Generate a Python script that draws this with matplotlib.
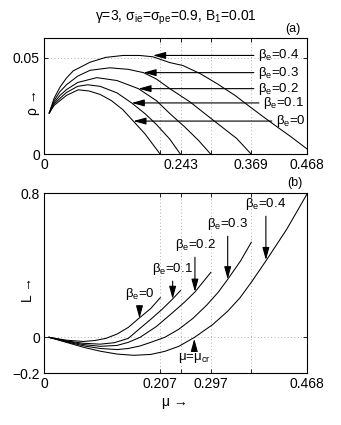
import numpy as np
import matplotlib
matplotlib.use('Agg')
import matplotlib.pyplot as plt

plt.rcParams['font.family'] = ['Liberation Sans', 'DejaVu Sans']
plt.rcParams['font.size'] = 10
plt.rcParams['mathtext.fontset'] = 'custom'
plt.rcParams['mathtext.rm'] = 'Liberation Sans'
plt.rcParams['mathtext.it'] = 'Liberation Sans'

# ---- panel (a): rho vs mu ----
mu_a0 = [0.0094, 0.018, 0.0285, 0.04, 0.061, 0.08, 0.10, 0.12, 0.14, 0.159, 0.18, 0.207]
rho_a0 = [0.0214, 0.0253, 0.0278, 0.0305, 0.0334, 0.0328, 0.031, 0.0278, 0.0232, 0.0172, 0.0105, 0.0]
mu_a1 = [0.0094, 0.018, 0.0285, 0.04, 0.06, 0.078, 0.10, 0.13, 0.156, 0.18, 0.20, 0.224, 0.243]
rho_a1 = [0.0214, 0.026, 0.029, 0.032, 0.0352, 0.036, 0.0352, 0.0318, 0.0266, 0.021, 0.0155, 0.0078, 0.0]
mu_a2 = [0.0094, 0.018, 0.0285, 0.04, 0.06, 0.094, 0.13, 0.168, 0.20, 0.224, 0.25, 0.275, 0.297]
rho_a2 = [0.0214, 0.0268, 0.0305, 0.0335, 0.0372, 0.0397, 0.0382, 0.034, 0.0278, 0.0211, 0.0143, 0.0072, 0.0]
mu_a3 = [0.0094, 0.018, 0.0285, 0.04, 0.06, 0.082, 0.117, 0.15, 0.177, 0.20, 0.224, 0.26, 0.301, 0.343, 0.369]
rho_a3 = [0.0214, 0.0278, 0.0325, 0.036, 0.0405, 0.0435, 0.0448, 0.044, 0.0423, 0.039, 0.034, 0.0271, 0.0177, 0.0082, 0.0]
mu_a4 = [0.0094, 0.018, 0.0285, 0.04, 0.052, 0.082, 0.11, 0.141, 0.17, 0.194, 0.224, 0.247, 0.278, 0.308,
         0.34, 0.367, 0.39, 0.415, 0.44, 0.468]
rho_a4 = [0.0214, 0.029, 0.0348, 0.0395, 0.0432, 0.0477, 0.0502, 0.0512, 0.0512, 0.0505, 0.0475, 0.046, 0.0418,
          0.0366, 0.0305, 0.0245, 0.0195, 0.0142, 0.009, 0.0028]

# ---- panel (b): L vs mu ----
mu_b0 = [0.009, 0.04, 0.07, 0.09, 0.11, 0.13, 0.15, 0.168, 0.19, 0.207]
L_b0 = [0.0, -0.016, -0.023, -0.018, -0.006, 0.018, 0.055, 0.103, 0.16, 0.22]
mu_b1 = [0.009, 0.04, 0.07, 0.10, 0.125, 0.15, 0.171, 0.19, 0.21, 0.229, 0.243]
L_b1 = [0.0, -0.02, -0.033, -0.038, -0.03, -0.006, 0.05, 0.10, 0.155, 0.213, 0.26]
mu_b2 = [0.009, 0.04, 0.07, 0.10, 0.13, 0.15, 0.171, 0.20, 0.23, 0.25, 0.269, 0.297]
L_b2 = [0.0, -0.022, -0.04, -0.05, -0.045, -0.028, 0.0, 0.06, 0.14, 0.195, 0.253, 0.361]
mu_b3 = [0.009, 0.04, 0.07, 0.10, 0.13, 0.15, 0.171, 0.19, 0.215, 0.24, 0.265, 0.29, 0.31, 0.327, 0.35, 0.369]
L_b3 = [0.0, -0.025, -0.047, -0.062, -0.068, -0.062, -0.048, -0.028, 0.0, 0.045, 0.105, 0.18, 0.25, 0.322,
        0.425, 0.528]
mu_b4 = [0.009, 0.04, 0.07, 0.10, 0.13, 0.16, 0.19, 0.215, 0.24, 0.268, 0.30, 0.327, 0.349, 0.37, 0.396,
         0.432, 0.468]
L_b4 = [0.0, -0.028, -0.055, -0.077, -0.093, -0.10, -0.095, -0.078, -0.05, 0.0, 0.07, 0.145, 0.22, 0.31,
        0.429, 0.60, 0.795]

beta_labels = ['0', '0.1', '0.2', '0.3', '0.4']

xticks = [0, 0.207, 0.243, 0.297, 0.369, 0.468]
xlab_a = ['0', '', '0.243', '', '0.369', '0.468']
xlab_b = ['0', '0.207', '', '0.297', '', '0.468']

fig = plt.figure(figsize=(3.41, 4.25), dpi=100)
ax1 = fig.add_axes([0.129, 0.637, 0.771, 0.2725])
ax2 = fig.add_axes([0.129, 0.1216, 0.771, 0.4235])

for ax in (ax1, ax2):
    ax.set_xlim(0, 0.468)
    ax.set_xticks(xticks)
    ax.tick_params(direction='in', length=3, width=0.6, top=True, right=True, labelsize=10, pad=3)
    ax.grid(True, linestyle=(0, (1, 3)), color='#999999', linewidth=0.6)
    for s in ax.spines.values():
        s.set_linewidth(0.8)

ax1.set_ylim(0, 0.06)
ax1.set_yticks([0, 0.05])
ax1.set_yticklabels(['0', '0.05'])
ax1.set_xticklabels(xlab_a)
for m, r in [(mu_a0, rho_a0), (mu_a1, rho_a1), (mu_a2, rho_a2), (mu_a3, rho_a3), (mu_a4, rho_a4)]:
    ax1.plot(m, r, color='k', lw=0.75)

ax2.set_ylim(-0.2, 0.8)
ax2.set_yticks([-0.2, 0, 0.8])
ax2.set_yticklabels(['\u22120.2', '0', '0.8'])
ax2.set_xticklabels(xlab_b)
for m, l in [(mu_b0, L_b0), (mu_b1, L_b1), (mu_b2, L_b2), (mu_b3, L_b3), (mu_b4, L_b4)]:
    ax2.plot(m, l, color='k', lw=0.75)

arr = dict(arrowstyle='-|>,head_length=0.8,head_width=0.22', color='k', lw=0.8, shrinkA=1, shrinkB=0)

# horizontal arrows in (a): (tip mu, level, text mu)
top_arrows = [(0.159, 0.0172, 0.413), (0.156, 0.0266, 0.390), (0.168, 0.034, 0.381),
              (0.177, 0.0423, 0.381), (0.194, 0.0512, 0.381)]
for b, (tx, ty, lx) in zip(beta_labels, top_arrows):
    ax1.annotate('\u03b2$_\\mathrm{e}$=' + b, xy=(tx, ty), xytext=(lx, ty), ha='left', va='center',
                 fontsize=9.5, arrowprops=arr)

# vertical arrows in (b): (mu, tip L, text bottom L)
bot_arrows = [(0.170, 0.105, 0.197), (0.229, 0.213, 0.335), (0.2687, 0.253, 0.468),
              (0.327, 0.322, 0.585), (0.395, 0.429, 0.696)]
for b, (tx, ty, ly) in zip(beta_labels, bot_arrows):
    ax2.annotate('\u03b2$_\\mathrm{e}$=' + b, xy=(tx, ty), xytext=(tx, ly), ha='center', va='bottom',
                 fontsize=9.5, arrowprops=arr)
ax2.annotate('\u03bc=\u03bc$_\\mathrm{cr}$', xy=(0.2675, -0.008), xytext=(0.2675, -0.078), ha='center',
             va='top', fontsize=9.5, arrowprops=arr)

fig.text(0.515, 0.957, '\u03b3=3, \u03c3$_\\mathrm{ie}$=\u03c3$_\\mathrm{pe}$=0.9, B$_\\mathrm{1}$=0.01',
         ha='center', va='center', fontsize=10)
fig.text(0.859, 0.932, '(a)', ha='center', va='center', fontsize=9)
fig.text(0.865, 0.569, '(b)', ha='center', va='center', fontsize=9)
fig.text(33 / 341, 1 - 102 / 425, '\u03c1 \u2192', rotation=90, ha='center', va='center', fontsize=10)
fig.text(28 / 341, 1 - 290 / 425, 'L \u2192', rotation=90, ha='center', va='center', fontsize=10)
fig.text(175 / 341, 1 - 402 / 425, '\u03bc \u2192', ha='center', va='center', fontsize=10)

fig.savefig('out.png', dpi=100)
